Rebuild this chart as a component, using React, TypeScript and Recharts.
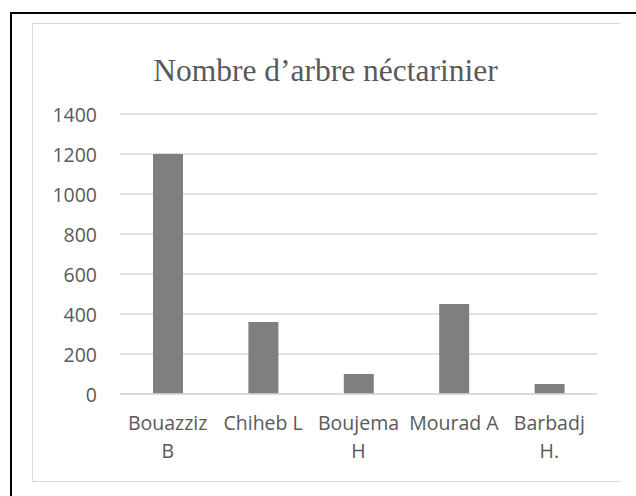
import { BarChart, Bar, XAxis, YAxis, CartesianGrid } from 'recharts';

// Nombre d'arbres néctarinier par agriculteur
const categories = ['Bouazziz\nB', 'Chiheb L', 'Boujema\nH', 'Mourad A', 'Barbadj\nH.'];
const arbres = [1200, 360, 100, 450, 50];
const yTicks = [0, 200, 400, 600, 800, 1000, 1200, 1400];
const title = 'Nombre d’arbre néctarinier';

const data = categories.map((nom, i) => ({ nom, arbres: arbres[i] }));

const TEXT_COLOR = '#595959';
const GRID_COLOR = '#d9d9d9';
const SANS = "'Open Sans', sans-serif";

// étiquettes de l'axe Y, alignées à droite
const YTick = (props: any) => {
  const { y, payload } = props;
  return (
    <text x={97} y={y} dy={7.5} textAnchor="end" fill={TEXT_COLOR} fontSize={19.5} fontFamily={SANS}>
      {payload.value}
    </text>
  );
};

// étiquettes de l'axe X sur deux lignes
const XTick = (props: any) => {
  const { x, payload } = props;
  const lines = String(payload.value).split('\n');
  return (
    <text x={x} y={430} textAnchor="middle" fill={TEXT_COLOR} fontSize={19.5} fontFamily={SANS}>
      {lines.map((l, i) => (
        <tspan key={i} x={x} dy={i === 0 ? 0 : 28}>
          {l}
        </tspan>
      ))}
    </text>
  );
};

export default function App() {
  return (
    <div style={{ position: 'fixed', left: 0, top: 0, width: 636, height: 496, background: '#fff', overflow: 'hidden' }}>
      {/* cadre noir (haut et gauche) */}
      <div
        style={{
          position: 'absolute',
          left: 10,
          top: 12,
          width: 640,
          height: 500,
          borderTop: '2.5px solid #000',
          borderLeft: '2.5px solid #000',
        }}
      />
      {/* cadre gris du graphique */}
      <div
        style={{
          position: 'absolute',
          left: 32,
          top: 23,
          width: 587,
          height: 457,
          borderTop: `1.5px solid ${GRID_COLOR}`,
          borderLeft: `1.5px solid ${GRID_COLOR}`,
          borderBottom: `1.5px solid ${GRID_COLOR}`,
        }}
      />
      <div
        style={{
          position: 'absolute',
          left: 0,
          width: 651,
          top: 55,
          textAlign: 'center',
          fontFamily: "'Liberation Serif', 'Times New Roman', serif",
          fontSize: 31.5,
          lineHeight: '31.5px',
          color: TEXT_COLOR,
          whiteSpace: 'nowrap',
        }}
      >
        {title}
      </div>
      <div style={{ position: 'absolute', left: 0, top: 0 }}>
        <BarChart width={636} height={496} data={data} margin={{ top: 114, right: 39, bottom: 72, left: 0 }}>
          <CartesianGrid vertical={false} stroke={GRID_COLOR} strokeWidth={1.5} />
          <XAxis
            dataKey="nom"
            height={30}
            tick={<XTick />}
            tickLine={false}
            axisLine={{ stroke: GRID_COLOR, strokeWidth: 1.5 }}
            interval={0}
          />
          <YAxis
            width={120}
            domain={[0, 1400]}
            ticks={yTicks}
            tick={<YTick />}
            tickLine={false}
            axisLine={false}
            interval={0}
          />
          <Bar dataKey="arbres" fill="#7f7f7f" barSize={30} isAnimationActive={false} />
        </BarChart>
      </div>
    </div>
  );
}
